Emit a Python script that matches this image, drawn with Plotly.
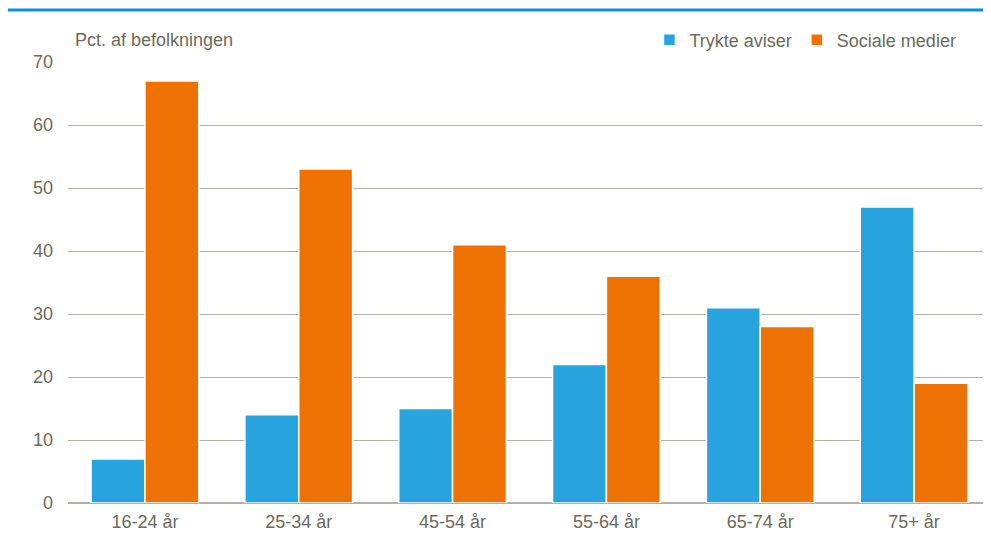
import plotly.graph_objects as go

# data
categories = ['16-24 år', '25-34 år', '45-54 år', '55-64 år', '65-74 år', '75+ år']
trykte_aviser = [7, 14, 15, 22, 31, 47]
sociale_medier = [67, 53, 41, 36, 28, 19]
y_ticks = [0, 10, 20, 30, 40, 50, 60, 70]

text_color = '#6b6a5c'
grid_color = '#b3b1a5'

fig = go.Figure()
fig.add_trace(go.Bar(x=categories, y=trykte_aviser, name='Trykte aviser',
                     marker=dict(color='#27a4de', line=dict(color='white', width=1.5))))
fig.add_trace(go.Bar(x=categories, y=sociale_medier, name='Sociale medier',
                     marker=dict(color='#ee7203', line=dict(color='white', width=1.5))))

# page body adds an 8px offset, so the figure is sized to fit the window
fig.update_layout(
    width=983, height=532,
    barmode='group', bargap=0.3, bargroupgap=0.0,
    plot_bgcolor='white', paper_bgcolor='white',
    font=dict(family='Liberation Sans, Arial, sans-serif', size=18, color=text_color),
    margin=dict(l=60, r=0, t=54, b=37),
    legend=dict(orientation='h', x=0.968, xanchor='right', y=1.05, yanchor='middle',
                font=dict(size=18, color=text_color), bgcolor='rgba(0,0,0,0)',
                itemwidth=30, traceorder='normal'),
    showlegend=True,
)

fig.update_yaxes(range=[0, 70], tickvals=y_ticks, showgrid=True, gridcolor=grid_color,
                 gridwidth=1, zeroline=True, zerolinecolor=grid_color, zerolinewidth=1.5,
                 showline=False, ticks='', ticklabelstandoff=14)
fig.update_xaxes(showgrid=False, showline=False, ticks='', ticklabelstandoff=6)

# blue rule along the top of the page
fig.add_shape(type='line', xref='paper', yref='paper',
              x0=-62/923, x1=1, y0=1 + 52/441, y1=1 + 52/441,
              line=dict(color='#0b8fd6', width=3))

fig.add_annotation(text='Pct. af befolkningen', xref='paper', yref='paper',
                   x=5/923, y=1 + 22/441, xanchor='left', yanchor='middle',
                   showarrow=False, font=dict(size=18, color=text_color))

fig.write_html('out.html')
